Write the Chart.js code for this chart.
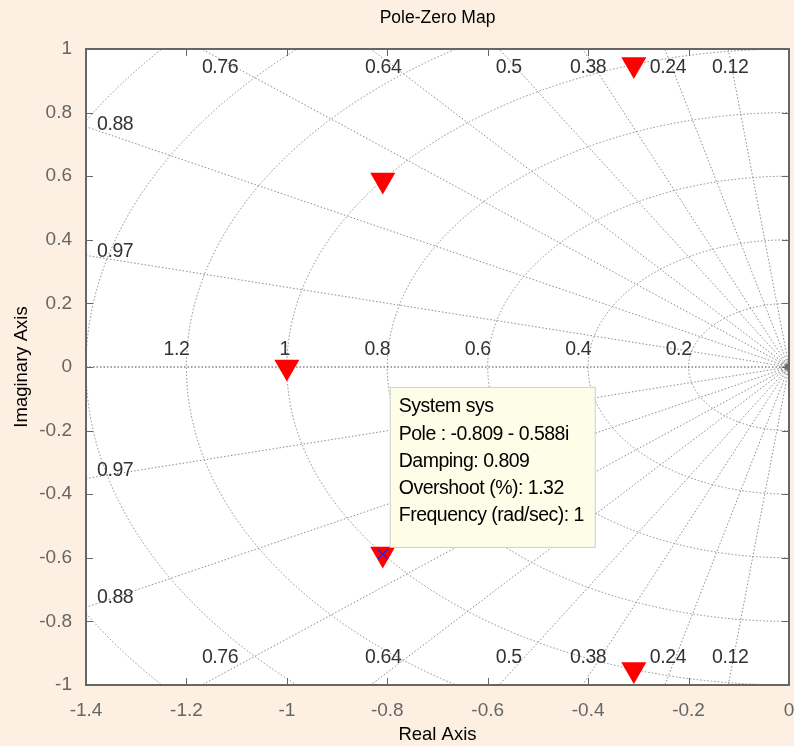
<!DOCTYPE html>
<html>
<head>
<meta charset="utf-8">
<title>Pole-Zero Map</title>
<script src="https://cdn.jsdelivr.net/npm/chart.js@4.4.0/dist/chart.umd.min.js"></script>
<style>
  html, body { margin: 0; padding: 0; background: #fdf0e2; }
  canvas { display: block; }
</style>
</head>
<body>
<canvas id="pzmap" width="794" height="746"></canvas>
<script>
// poles of sys (real / imaginary parts)
var poleRe = [-0.30902, -0.80902, -1.0, -0.80902, -0.30902];
var poleIm = [0.95106, 0.58779, 0.0, -0.58779, -0.95106];
var selectedPole = 3;

// sgrid: damping ratios and natural frequencies
var dampingValues = [0.12, 0.24, 0.38, 0.5, 0.64, 0.76, 0.88, 0.97];
var freqValues = [0.2, 0.4, 0.6, 0.8, 1.0, 1.2, 1.4, 1.6];
var freqLabels = ['0.2', '0.4', '0.6', '0.8', '1', '1.2'];
var smallFreqs = [0.006, 0.012, 0.018];

var xMin = -1.4, xMax = 0, xStep = 0.2;
var yMin = -1, yMax = 1, yStep = 0.2;

var FONT = '"Liberation Sans", Arial, sans-serif';

function fmt(v) {
    return String(Number(v.toPrecision(3)));
}

// where the damping labels sit, in axis units
var dampSpots = [
    { t: '0.76', x: -1.133, y: 0.943 }, { t: '0.64', x: -0.808, y: 0.943 },
    { t: '0.5', x: -0.558, y: 0.943 },  { t: '0.38', x: -0.400, y: 0.943 },
    { t: '0.24', x: -0.241, y: 0.943 }, { t: '0.12', x: -0.117, y: 0.943 },
    { t: '0.88', x: -1.342, y: 0.761 }, { t: '0.97', x: -1.342, y: 0.362 },
    { t: '0.76', x: -1.133, y: -0.915 }, { t: '0.64', x: -0.808, y: -0.915 },
    { t: '0.5', x: -0.558, y: -0.915 },  { t: '0.38', x: -0.400, y: -0.915 },
    { t: '0.24', x: -0.241, y: -0.915 }, { t: '0.12', x: -0.117, y: -0.915 },
    { t: '0.88', x: -1.342, y: -0.726 }, { t: '0.97', x: -1.342, y: -0.327 }
];

var sgrid = {
    id: 'sgrid',
    beforeDraw: function (chart) {
        var ctx = chart.ctx, a = chart.chartArea;
        ctx.save();
        ctx.fillStyle = '#fdf0e2';
        ctx.fillRect(0, 0, chart.width, chart.height);
        ctx.fillStyle = '#ffffff';
        ctx.fillRect(a.left, a.top, a.right - a.left, a.bottom - a.top);
        ctx.restore();
    },
    beforeDatasetsDraw: function (chart) {
        var ctx = chart.ctx, a = chart.chartArea;
        var xs = chart.scales.x, ys = chart.scales.y;
        var ox = xs.getPixelForValue(0), oy = ys.getPixelForValue(0);

        ctx.save();
        ctx.beginPath();
        ctx.rect(a.left, a.top, a.right - a.left, a.bottom - a.top);
        ctx.clip();
        ctx.lineWidth = 1;
        ctx.setLineDash([1.5, 2]);
        ctx.strokeStyle = '#8c8c8c';

        // constant damping rays
        dampingValues.forEach(function (z) {
            var th = Math.acos(z), r = 3;
            [1, -1].forEach(function (s) {
                ctx.beginPath();
                ctx.moveTo(ox, oy);
                ctx.lineTo(xs.getPixelForValue(-r * Math.cos(th)), ys.getPixelForValue(s * r * Math.sin(th)));
                ctx.stroke();
            });
        });

        // constant natural frequency arcs
        freqValues.concat(smallFreqs).forEach(function (w) {
            var rx = ox - xs.getPixelForValue(-w);
            var ry = ys.getPixelForValue(-w) - oy;
            ctx.beginPath();
            ctx.ellipse(ox, oy, rx, ry, 0, Math.PI / 2, Math.PI * 3 / 2);
            ctx.stroke();
        });

        // real axis
        ctx.strokeStyle = '#444444';
        ctx.beginPath();
        ctx.moveTo(a.left, oy);
        ctx.lineTo(ox, oy);
        ctx.stroke();
        ctx.setLineDash([]);

        ctx.fillStyle = '#666666';
        ctx.beginPath();
        ctx.arc(ox - 1, oy, 3, 0, Math.PI * 2);
        ctx.fill();
        ctx.restore();

        // grid labels
        ctx.save();
        ctx.font = '19.5px ' + FONT;
        ctx.letterSpacing = '-0.4px';
        ctx.fillStyle = '#333333';
        ctx.textBaseline = 'middle';
        ctx.textAlign = 'center';
        dampSpots.forEach(function (d) {
            ctx.fillText(d.t, xs.getPixelForValue(d.x), ys.getPixelForValue(d.y));
        });
        ctx.textAlign = 'right';
        freqLabels.forEach(function (t, i) {
            ctx.fillText(t, xs.getPixelForValue(-freqValues[i]) + 3, oy - 17);
        });
        ctx.restore();
    },
    afterDatasetsDraw: function (chart) {
        var ctx = chart.ctx, a = chart.chartArea;
        var xs = chart.scales.x, ys = chart.scales.y;

        // axes box with inward ticks
        ctx.save();
        ctx.strokeStyle = '#666666';
        ctx.lineWidth = 1;
        xs.ticks.forEach(function (t) {
            var px = Math.round(xs.getPixelForValue(t.value)) + 0.5;
            ctx.beginPath();
            ctx.moveTo(px, a.bottom); ctx.lineTo(px, a.bottom - 7);
            ctx.moveTo(px, a.top); ctx.lineTo(px, a.top + 7);
            ctx.stroke();
        });
        ys.ticks.forEach(function (t) {
            var py = Math.round(ys.getPixelForValue(t.value)) + 0.5;
            ctx.beginPath();
            ctx.moveTo(a.left, py); ctx.lineTo(a.left + 7, py);
            ctx.moveTo(a.right, py); ctx.lineTo(a.right - 7, py);
            ctx.stroke();
        });
        ctx.lineWidth = 2;
        ctx.strokeRect(a.left, a.top, a.right - a.left, a.bottom - a.top);
        ctx.restore();

        // data tip for the selected pole
        var re = poleRe[selectedPole], im = poleIm[selectedPole];
        var wn = Math.sqrt(re * re + im * im);
        var zeta = -re / wn;
        var os = 100 * Math.exp(-zeta * Math.PI / Math.sqrt(1 - zeta * zeta));
        var lines = [
            'System sys',
            'Pole : ' + fmt(re) + (im < 0 ? ' - ' : ' + ') + fmt(Math.abs(im)) + 'i',
            'Damping: ' + fmt(zeta),
            'Overshoot (%): ' + fmt(os),
            'Frequency (rad/sec): ' + fmt(wn)
        ];
        var px = xs.getPixelForValue(re), py = ys.getPixelForValue(im);
        var bx = px + 7, by = py - 7 - 160;
        ctx.save();
        ctx.fillStyle = '#fdfde8';
        ctx.fillRect(bx, by, 205, 160);
        ctx.strokeStyle = '#cfcfcf';
        ctx.lineWidth = 1;
        ctx.strokeRect(bx + 0.5, by + 0.5, 205, 160);
        ctx.fillStyle = '#000000';
        ctx.font = '19.5px ' + FONT;
        ctx.letterSpacing = '-0.5px';
        ctx.textBaseline = 'middle';
        ctx.textAlign = 'left';
        lines.forEach(function (t, i) {
            ctx.fillText(t, bx + 9, by + 20 + i * 27.3);
        });
        ctx.restore();
    }
};

var poles = poleRe.map(function (x, i) { return { x: x, y: poleIm[i] }; });

new Chart(document.getElementById('pzmap'), {
    type: 'scatter',
    data: {
        datasets: [
            {
                label: 'selected',
                data: [poles[selectedPole]],
                pointStyle: 'crossRot',
                pointRadius: 7,
                borderColor: '#2020ff',
                borderWidth: 1.2,
                order: 0
            },
            {
                label: 'sys',
                data: poles,
                pointStyle: 'triangle',
                rotation: 180,
                pointRadius: 14.5,
                backgroundColor: '#ff0000',
                borderColor: '#ff0000',
                borderWidth: 0,
                order: 1
            }
        ]
    },
    options: {
        responsive: false,
        animation: false,
        events: [],
        clip: false,
        layout: {
            autoPadding: false,
            padding: { left: 0, right: 5, top: 0, bottom: 0 }
        },
        plugins: {
            legend: { display: false },
            tooltip: { enabled: false },
            title: {
                display: true,
                fullSize: false,
                text: 'Pole-Zero Map',
                color: '#000000',
                font: { family: FONT, size: 17.5, weight: 'normal' },
                padding: { top: 8, bottom: 20 }
            }
        },
        scales: {
            x: {
                type: 'linear',
                min: xMin,
                max: xMax,
                grid: { display: false },
                border: { display: false },
                ticks: {
                    stepSize: xStep,
                    padding: 6,
                    color: '#666666',
                    font: { family: FONT, size: 19 },
                    callback: function (v) { return String(Number(v.toFixed(1))); }
                },
                title: {
                    display: true,
                    text: 'Real Axis',
                    color: '#000000',
                    font: { family: FONT, size: 18.5 },
                    padding: { top: 0, bottom: 0 }
                },
                afterFit: function (s) {
                    s.height = 61;
                    s.paddingLeft = 0;
                    s.paddingRight = 0;
                }
            },
            y: {
                type: 'linear',
                min: yMin,
                max: yMax,
                grid: { display: false },
                border: { display: false },
                ticks: {
                    stepSize: yStep,
                    padding: 6,
                    color: '#666666',
                    font: { family: FONT, size: 19 },
                    callback: function (v) { return String(Number(v.toFixed(1))); }
                },
                title: {
                    display: true,
                    text: 'Imaginary Axis',
                    color: '#000000',
                    font: { family: FONT, size: 18.5 },
                    padding: { top: 11, bottom: 0 }
                },
                afterFit: function (s) {
                    s.width = 86;
                    s.paddingTop = 0;
                    s.paddingBottom = 0;
                }
            }
        }
    },
    plugins: [sgrid]
});
</script>
</body>
</html>
